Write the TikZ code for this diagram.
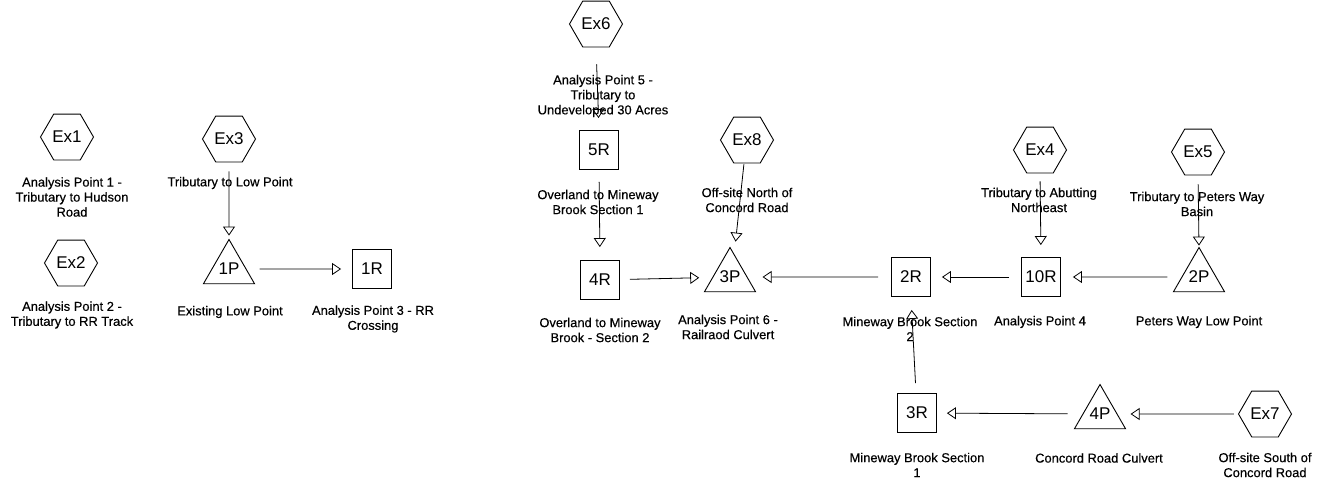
\documentclass[tikz,border=0pt]{standalone}
\usepackage{fontspec}
\setmainfont{Liberation Sans}
\newfontfamily\labelfont[FakeBold=0.4]{Liberation Sans}
\usetikzlibrary{shapes.geometric,arrows.meta}
\begin{document}
\begin{tikzpicture}[x=1pt,y=-1pt,
  subcatch/.style={regular polygon,regular polygon sides=6,draw,line width=0.9pt,
    minimum size=53pt,inner sep=0pt,font=\fontsize{17}{18}\selectfont,fill=white},
  pond/.style={regular polygon,regular polygon sides=3,draw,line width=0.9pt,
    minimum size=59pt,inner sep=0pt,font=\fontsize{17}{18}\selectfont,fill=white},
  reach/.style={rectangle,draw,line width=0.9pt,minimum size=39pt,inner sep=0pt,
    font=\fontsize{17}{18}\selectfont,fill=white},
  caption/.style={align=center,inner sep=0pt,font=\labelfont\fontsize{12.9}{15}\selectfont},
  flow/.style={line width=0.8pt,-{Triangle[open,length=9pt,width=12pt,line width=0.8pt]}}
]
\useasboundingbox[fill=white] (0,0) rectangle (1327,483);

% ---- left part: links to Hudson Road and RR track ----
\node[subcatch] (ex1) at (67,137) {Ex1};
\node[caption] (ex1l) at (72,197) {Analysis Point 1 -\\Tributary to Hudson\\Road};
\node[subcatch] (ex2) at (71,263) {Ex2};
\node[caption] (ex2l) at (72,315) {Analysis Point 2 -\\Tributary to RR Track};
\node[subcatch] (ex3) at (229,139) {Ex3};
\node[caption] (ex3l) at (230,183) {Tributary to Low Point};
\node[pond] (p1) at (229,269) {1P};
\node[caption] (p1l) at (230,312) {Existing Low Point};
\node[reach] (r1) at (372,269) {1R};
\node[caption] (r1l) at (373,319) {Analysis Point 3 - RR\\Crossing};

\draw[flow,shorten <=9pt,shorten >=3pt] (ex3.south) -- (p1.north);
\draw[flow,shorten <=13pt,shorten >=11pt] (p1) -- (r1);

% ---- right part: Mineway Brook system ----
\node[subcatch] (ex6) at (596,24) {Ex6};
\node[caption] (ex6l) at (603,96) {Analysis Point 5 -\\Tributary to\\Undeveloped 30 Acres};
\node[reach] (r5) at (599,150) {5R};
\node[caption] (r5l) at (598,202) {Overland to Mineway\\Brook Section 1};
\node[reach] (r4) at (600,280) {4R};
\node[caption] (r4l) at (600,330) {Overland to Mineway\\Brook - Section 2};
\node[pond] (p3) at (730,277) {3P};
\node[caption] (p3l) at (728,327) {Analysis Point 6 -\\Railraod Culvert};
\node[subcatch] (ex8) at (747,140) {Ex8};
\node[caption] (ex8l) at (747,200) {Off-site North of\\Concord Road};
\node[reach] (r2) at (911,277) {2R};
\node[caption] (r2l) at (910,329) {Mineway Brook Section\\2};
\node[reach] (r10) at (1041,277) {10R};
\node[caption] (r10l) at (1040,322) {Analysis Point 4};
\node[subcatch] (ex4) at (1040,150) {Ex4};
\node[caption] (ex4l) at (1039,200) {Tributary to Abutting\\Northeast};
\node[subcatch] (ex5) at (1198,152) {Ex5};
\node[caption] (ex5l) at (1197,204) {Tributary to Peters Way\\Basin};
\node[pond] (p2) at (1199,277) {2P};
\node[caption] (p2l) at (1199,322) {Peters Way Low Point};
\node[reach] (r3) at (917,413) {3R};
\node[caption] (r3l) at (917,465) {Mineway Brook Section\\1};
\node[pond] (p4) at (1100,414) {4P};
\node[caption] (p4l) at (1099,458) {Concord Road Culvert};
\node[subcatch] (ex7) at (1265,414) {Ex7};
\node[caption] (ex7l) at (1265,465) {Off-site South of\\Concord Road};

\draw[flow,shorten <=17pt,shorten >=12pt] (ex6.south) -- (r5.north);
\draw[flow,shorten <=12pt,shorten >=13pt] (r5.south) -- (r4.north);
\draw[flow,shorten <=1pt,shorten >=5pt] ([xshift=-3pt]ex8.south) -- ([xshift=5pt]p3.north);
\draw[flow,shorten <=10pt,shorten >=13pt] (r4) -- (p3);
\draw[flow,shorten <=13pt,shorten >=15pt] (r2) -- (p3);
\draw[flow,shorten <=12pt,shorten >=11pt] (r10) -- (r2);
\draw[flow,shorten <=14pt,shorten >=12pt] (p2) -- (r10);
\draw[flow,shorten <=8pt,shorten >=12pt] (ex4.south) -- (r10.north);
\draw[flow,shorten <=9pt,shorten >=1pt] (ex5.south) -- (p2.north);
\draw[flow,shorten <=10pt,shorten >=13pt] ([xshift=-1pt]r3.north) -- (r2.south);
\draw[flow,shorten <=15pt,shorten >=10pt] (p4) -- (r3);
\draw[flow,shorten <=4pt,shorten >=13pt] (ex7) -- (p4);
\end{tikzpicture}
\end{document}
